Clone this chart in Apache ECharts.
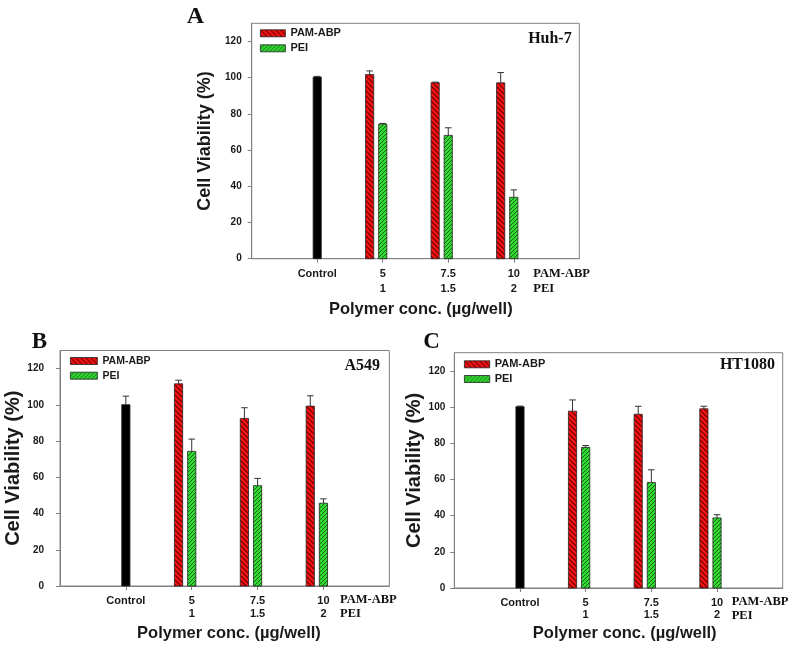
<!DOCTYPE html>
<html>
<head>
<meta charset="utf-8">
<script src="https://cdn.jsdelivr.net/npm/echarts@6/dist/echarts.min.js"></script>
<style>html,body{margin:0;padding:0;background:#fff}#c{width:800px;height:650px}</style>
</head>
<body>
<div id="c"></div>
<script>
// ---------- data ----------
const xLabels = ['Control', '5\n1', '7.5\n1.5', '10\n2'];
const xPos = [1, 2, 3, 4];
const yTicks = [0, 20, 40, 60, 80, 100, 120];
const seriesNames = ['PAM-ABP', 'PEI'];
const rowHeader = 'PAM-ABP\nPEI';
const panelLetters = ['A', 'B', 'C'];
const cellLines = ['Huh-7', 'A549', 'HT1080'];

// Huh-7
const huhControl = [100.3];
const huhControlErr = [0.4];
const huhPam = [101.7, 97.2, 97.1];
const huhPamErr = [2.0, 0.3, 5.7];
const huhPei = [74.3, 68.1, 33.9];
const huhPeiErr = [0.4, 4.2, 4.1];

// A549
const a549Control = [100.1];
const a549ControlErr = [4.7];
const a549Pam = [111.6, 92.5, 99.3];
const a549PamErr = [2.0, 5.9, 5.7];
const a549Pei = [74.3, 55.4, 45.7];
const a549PeiErr = [6.8, 4.0, 2.4];

// HT1080
const htControl = [100.2];
const htControlErr = [0.3];
const htPam = [97.7, 96.0, 99.0];
const htPamErr = [6.2, 4.4, 1.4];
const htPei = [77.7, 58.3, 38.7];
const htPeiErr = [1.0, 7.0, 1.8];

// ---------- styles ----------
function makeHatch(bg, fg, size, dir, lw) {
  const c = document.createElement('canvas');
  c.width = size; c.height = size;
  const g = c.getContext('2d');
  g.fillStyle = bg; g.fillRect(0, 0, size, size);
  g.strokeStyle = fg; g.lineWidth = lw;
  g.beginPath();
  if (dir === 'back') {
    g.moveTo(-1, -1); g.lineTo(size + 1, size + 1);
    g.moveTo(-1, size - 1); g.lineTo(1, size + 1);
    g.moveTo(size - 1, -1); g.lineTo(size + 1, 1);
  } else {
    g.moveTo(-1, size + 1); g.lineTo(size + 1, -1);
    g.moveTo(-1, 1); g.lineTo(1, -1);
    g.moveTo(size - 1, size + 1); g.lineTo(size + 1, size - 1);
  }
  g.stroke();
  return c;
}
const redFill = { image: makeHatch('#ff1414', '#7a0000', 5, 'back', 1.3), repeat: 'repeat' };
const greenFill = { image: makeHatch('#30dd30', '#1b5e1b', 4, 'fwd', 1.0), repeat: 'repeat' };
const blackFill = '#000000';
const sans = 'Liberation Sans, Arial, sans-serif';
const serif = 'Liberation Serif, Times New Roman, serif';
const txt = '#1a1a1a';
const frame = '#808080';

function makeRender(fill) {
  return function (params, api) {
    const x = api.value(0), v = api.value(1), e = api.value(2);
    const base = api.coord([x, 0]);
    const top = api.coord([x, v]);
    const et = api.coord([x, v + e]);
    const w = api.size([0.125, 0])[0];
    const cap = w * 0.8;
    return {
      type: 'group',
      children: [
        { type: 'rect', shape: { x: top[0] - w / 2, y: top[1], width: w, height: base[1] - top[1] },
          style: { fill: fill, stroke: '#222', lineWidth: 0.8 } },
        { type: 'line', shape: { x1: top[0], y1: top[1], x2: top[0], y2: et[1] },
          style: { stroke: '#333', lineWidth: 1 } },
        { type: 'line', shape: { x1: top[0] - cap / 2, y1: et[1], x2: top[0] + cap / 2, y2: et[1] },
          style: { stroke: '#333', lineWidth: 1 } }
      ]
    };
  };
}

function build(vals, errs, positions) {
  return vals.map((v, i) => [positions[i], v, errs[i]]);
}

const panels = [
  { grid: { left: 251.7, top: 23.3, width: 327.6, height: 235.4 },
    ctrl: huhControl, ctrlErr: huhControlErr, pam: huhPam, pamErr: huhPamErr, pei: huhPei, peiErr: huhPeiErr,
    yName: 18, yGap: 37.5, yLabelMargin: 10, xLabelMargin: 7.8, xLh: 15, xNameGap: 42.5, xNamePad: 10.6,
    legend: { left: 260, top: 26.3, itemWidth: 25, itemGap: 1, fs: 11, lh: 14, tg: 5 },
    letter: { left: 186.7, top: 4.5, fs: 24 }, cell: { right: 228.3, top: 31.3 },
    row: { left: 533.3, top: 266, lh: 15 } },
  { grid: { left: 60, top: 350.5, width: 329.3, height: 235.5 },
    ctrl: a549Control, ctrlErr: a549ControlErr, pam: a549Pam, pamErr: a549PamErr, pei: a549Pei, peiErr: a549PeiErr,
    yName: 20, yGap: 35, yLabelMargin: 16, xLabelMargin: 8.5, xLh: 13, xNameGap: 38.8, xNamePad: 8.6,
    legend: { left: 70, top: 354, itemWidth: 27, itemGap: 0.7, fs: 10.5, lh: 14, tg: 3.5 },
    letter: { left: 31.7, top: 330.5, fs: 23 }, cell: { right: 420, top: 357.7 },
    row: { left: 340, top: 593, lh: 14 } },
  { grid: { left: 454.3, top: 352.7, width: 328.4, height: 235.3 },
    ctrl: htControl, ctrlErr: htControlErr, pam: htPam, pamErr: htPamErr, pei: htPei, peiErr: htPeiErr,
    yName: 20, yGap: 29.3, yLabelMargin: 9, xLabelMargin: 9.3, xLh: 12, xNameGap: 36.8, xNamePad: 12.4,
    legend: { left: 464, top: 357.3, itemWidth: 25.3, itemGap: 0.7, fs: 11, lh: 14, tg: 5 },
    letter: { left: 423.3, top: 331, fs: 23 }, cell: { right: 25, top: 357 },
    row: { left: 731.7, top: 594.5, lh: 14.5 } }
];

const option = { animation: false, backgroundColor: '#fff', grid: [], xAxis: [], yAxis: [], series: [], legend: [], title: [] };

panels.forEach((p, i) => {
  option.grid.push(Object.assign({ show: true, borderColor: frame, borderWidth: 1, containLabel: false }, p.grid));
  option.xAxis.push({
    type: 'value', gridIndex: i, min: 0, max: 5,
    name: 'Polymer conc. (µg/well)', nameLocation: 'middle', nameGap: p.xNameGap,
    nameTextStyle: { fontFamily: sans, fontWeight: 'bold', fontSize: 16.5, color: txt, padding: [0, 0, 0, p.xNamePad], verticalAlign: 'top' },
    axisLine: { show: true, lineStyle: { color: frame, width: 1 } },
    axisTick: { show: true, length: 4, lineStyle: { color: frame }, customValues: xPos },
    axisLabel: { show: true, customValues: xPos, margin: p.xLabelMargin, fontFamily: sans, fontWeight: 'bold', fontSize: 11, color: txt, lineHeight: p.xLh,
      formatter: (v) => xLabels[xPos.indexOf(v)] || '' },
    splitLine: { show: false }
  });
  option.yAxis.push({
    type: 'value', gridIndex: i, min: 0, max: 130,
    name: 'Cell Viability (%)', nameLocation: 'middle', nameGap: p.yGap,
    nameTextStyle: { fontFamily: sans, fontWeight: 'bold', fontSize: p.yName, color: txt },
    axisLine: { show: true, lineStyle: { color: frame, width: 1 } },
    axisTick: { show: true, length: 4, lineStyle: { color: frame }, customValues: yTicks },
    axisLabel: { show: true, customValues: yTicks, margin: p.yLabelMargin, fontFamily: sans, fontWeight: 'bold', fontSize: 10, color: txt },
    splitLine: { show: false }
  });
  option.series.push({
    type: 'custom', name: 'Control', xAxisIndex: i, yAxisIndex: i,
    renderItem: makeRender(blackFill), itemStyle: { color: blackFill },
    encode: { x: 0, y: 1 }, data: build(p.ctrl, p.ctrlErr, [xPos[0]])
  });
  option.series.push({
    type: 'custom', name: seriesNames[0], xAxisIndex: i, yAxisIndex: i,
    renderItem: makeRender(redFill), itemStyle: { color: redFill, borderColor: '#222', borderWidth: 0.8 },
    encode: { x: 0, y: 1 }, data: build(p.pam, p.pamErr, xPos.slice(1).map(g => g - 0.2))
  });
  option.series.push({
    type: 'custom', name: seriesNames[1], xAxisIndex: i, yAxisIndex: i,
    renderItem: makeRender(greenFill), itemStyle: { color: greenFill, borderColor: '#222', borderWidth: 0.8 },
    encode: { x: 0, y: 1 }, data: build(p.pei, p.peiErr, xPos.slice(1))
  });
  const L = p.legend;
  option.legend.push({
    orient: 'vertical', left: L.left, top: L.top, padding: 0, itemWidth: L.itemWidth, itemHeight: 7,
    itemGap: L.itemGap, itemTextGap: L.tg, selectedMode: false, icon: 'rect',
    textStyle: { fontFamily: sans, fontWeight: 'bold', fontSize: L.fs, color: txt, lineHeight: L.lh },
    data: [
      { name: seriesNames[0], itemStyle: { color: redFill, borderColor: '#222', borderWidth: 0.8 } },
      { name: seriesNames[1], itemStyle: { color: greenFill, borderColor: '#222', borderWidth: 0.8 } }
    ]
  });
  option.title.push({
    text: panelLetters[i], left: p.letter.left, top: p.letter.top, padding: 0,
    textStyle: { fontFamily: serif, fontWeight: 'bold', fontSize: p.letter.fs, color: '#111' }
  });
  option.title.push({
    text: cellLines[i], right: p.cell.right, top: p.cell.top, padding: 0,
    textStyle: { fontFamily: serif, fontWeight: 'bold', fontSize: 16, color: '#111' }
  });
  option.title.push({
    text: rowHeader, left: p.row.left, top: p.row.top, padding: 0,
    textStyle: { fontFamily: serif, fontWeight: 'bold', fontSize: 12.5, color: '#111', lineHeight: p.row.lh }
  });
});

const chart = echarts.init(document.getElementById('c'), null, { renderer: 'canvas' });
chart.setOption(option);
</script>
</body>
</html>
